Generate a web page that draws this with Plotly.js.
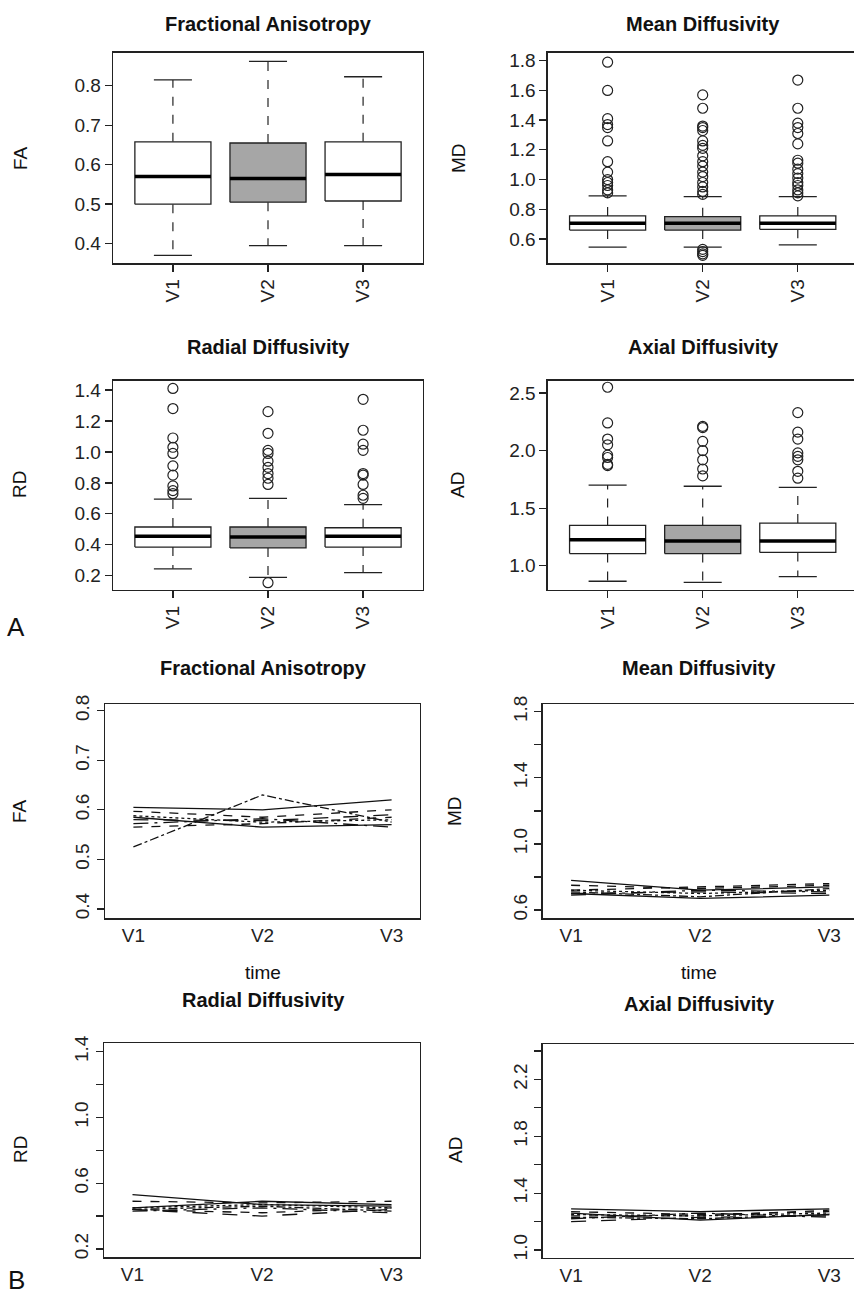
<!DOCTYPE html>
<html>
<head>
<meta charset="utf-8">
<script src="https://cdn.plot.ly/plotly-3.0.1.min.js"></script>
<style>
  body { margin: 0; overflow: hidden; background: #fff; }
  #chart { width: 862px; height: 1295px; }
</style>
</head>
<body>
<div id="chart"></div>
<script>
// ---- data ----
const visits = ["V1", "V2", "V3"];

// boxplot stats per visit: [lower whisker, q1, median, q3, upper whisker]
const faStats = [[0.37, 0.50, 0.57, 0.658, 0.815], [0.395, 0.505, 0.565, 0.655, 0.862], [0.395, 0.508, 0.575, 0.658, 0.823]];
const mdStats = [[0.545, 0.66, 0.705, 0.755, 0.89], [0.545, 0.66, 0.705, 0.75, 0.885], [0.56, 0.665, 0.705, 0.755, 0.885]];
const rdStats = [[0.245, 0.385, 0.455, 0.515, 0.695], [0.19, 0.38, 0.45, 0.515, 0.70], [0.22, 0.385, 0.455, 0.51, 0.66]];
const adStats = [[0.865, 1.105, 1.225, 1.35, 1.70], [0.855, 1.105, 1.215, 1.35, 1.69], [0.905, 1.115, 1.215, 1.37, 1.68]];

// outliers per visit
const faOut = [[], [], []];
const mdOut = [
  [1.79, 1.60, 1.41, 1.37, 1.35, 1.26, 1.12, 1.05, 1.0, 0.98, 0.96, 0.93, 0.91],
  [1.57, 1.48, 1.36, 1.35, 1.33, 1.26, 1.23, 1.21, 1.16, 1.12, 1.09, 1.05, 1.02, 0.98, 0.95, 0.92, 0.90, 0.53, 0.515, 0.50, 0.49],
  [1.67, 1.48, 1.38, 1.35, 1.31, 1.24, 1.13, 1.11, 1.07, 1.04, 1.01, 0.98, 0.96, 0.93, 0.91, 0.89]
];
const rdOut = [
  [1.41, 1.28, 1.09, 1.03, 0.99, 0.91, 0.85, 0.78, 0.75, 0.73],
  [1.26, 1.12, 1.01, 0.99, 0.94, 0.90, 0.86, 0.83, 0.79, 0.155],
  [1.34, 1.14, 1.05, 1.01, 0.86, 0.85, 0.79, 0.72, 0.70]
];
const adOut = [
  [2.55, 2.24, 2.10, 2.05, 1.96, 1.94, 1.88, 1.87],
  [2.21, 2.20, 2.08, 2.0, 1.92, 1.84, 1.78],
  [2.33, 2.16, 2.10, 1.98, 1.95, 1.92, 1.82, 1.76]
];

// subject trajectories (V1, V2, V3)
const faLines = [[0.605, 0.600, 0.620], [0.597, 0.585, 0.600], [0.588, 0.575, 0.580], [0.525, 0.630, 0.575],
                 [0.580, 0.578, 0.590], [0.572, 0.582, 0.565], [0.585, 0.565, 0.570], [0.565, 0.572, 0.585]];
const mdLines = [[0.78, 0.72, 0.74], [0.75, 0.73, 0.75], [0.72, 0.70, 0.72], [0.71, 0.68, 0.73],
                 [0.70, 0.71, 0.70], [0.69, 0.72, 0.71], [0.70, 0.67, 0.69], [0.72, 0.74, 0.76]];
const rdLines = [[0.53, 0.47, 0.46], [0.49, 0.48, 0.49], [0.45, 0.47, 0.45], [0.44, 0.46, 0.43],
                 [0.44, 0.40, 0.44], [0.43, 0.45, 0.42], [0.45, 0.49, 0.47], [0.44, 0.42, 0.45]];
const adLines = [[1.29, 1.27, 1.29], [1.27, 1.25, 1.27], [1.25, 1.24, 1.26], [1.23, 1.22, 1.25],
                 [1.20, 1.23, 1.24], [1.22, 1.26, 1.23], [1.26, 1.21, 1.25], [1.24, 1.24, 1.28]];
const dashes = ["solid", "dash", "dot", "dashdot", "longdash", "longdashdot", "solid", "dash"];

// ---- layout helpers ----
const W = 862, H = 1295;
const FONT = "Liberation Sans, Arial, sans-serif";
const dx = (a, b) => [a / W, b / W];
const dy = (top, bot) => [1 - bot / H, 1 - top / H];

let traces = [];
let layout = {
  width: W, height: H,
  margin: { l: 0, r: 0, t: 0, b: 0 },
  paper_bgcolor: "#fff", plot_bgcolor: "#fff",
  showlegend: false,
  font: { family: FONT, color: "#222" },
  annotations: []
};

function axisBase(extra) {
  return Object.assign({
    showline: true, mirror: true, linecolor: "#222", linewidth: 1.3,
    ticks: "outside", ticklen: 7, tickcolor: "#222", tickwidth: 1.3,
    showgrid: false, zeroline: false, fixedrange: true,
    tickfont: { size: 19, family: FONT, color: "#222" }
  }, extra);
}

function note(text, px, py, opts) {
  layout.annotations.push(Object.assign({
    text: text, x: px / W, y: 1 - py / H, xref: "paper", yref: "paper",
    xanchor: "center", yanchor: "middle",
    showarrow: false, font: { size: 19, family: FONT, color: "#111" }
  }, opts || {}));
}

function boxPanel(n, stats, outs, xd, yd, yr, yticks) {
  const xa = "x" + n, ya = "y" + n;
  layout["xaxis" + n] = axisBase({ domain: xd, range: [0.37, 3.63], anchor: ya,
    tickvals: [1, 2, 3], ticktext: visits, tickangle: -90 });
  layout["yaxis" + n] = axisBase({ domain: yd, range: yr, anchor: xa, tickvals: yticks, tickformat: ".1f" });
  stats.forEach((s, i) => {
    const c = i + 1, w = 0.4;
    const [lo, q1, med, q3, hi] = s;
    traces.push({ x: [c, c, null, c, c], y: [q3, hi, null, q1, lo], xaxis: xa, yaxis: ya,
      mode: "lines", line: { color: "#222", width: 1.2, dash: "dash" }, hoverinfo: "skip" });
    traces.push({ x: [c - w / 2, c + w / 2, null, c - w / 2, c + w / 2], y: [hi, hi, null, lo, lo],
      xaxis: xa, yaxis: ya, mode: "lines", line: { color: "#222", width: 1.3 }, hoverinfo: "skip" });
    traces.push({ x: [c - w, c + w, c + w, c - w, c - w], y: [q1, q1, q3, q3, q1], xaxis: xa, yaxis: ya,
      mode: "lines", fill: "toself", fillcolor: i === 1 ? "#a6a6a6" : "#ffffff",
      line: { color: "#222", width: 1.3 }, hoverinfo: "skip" });
    traces.push({ x: [c - w, c + w], y: [med, med], xaxis: xa, yaxis: ya,
      mode: "lines", line: { color: "#000", width: 3.5 }, hoverinfo: "skip" });
    if (outs[i].length) {
      traces.push({ x: outs[i].map(() => c), y: outs[i], xaxis: xa, yaxis: ya, mode: "markers",
        marker: { symbol: "circle-open", size: 10, color: "#222", line: { width: 1.2 } }, hoverinfo: "skip" });
    }
  });
}

function linePanel(n, lines, xd, yd, yr, yticks, ylabels) {
  const xa = "x" + n, ya = "y" + n;
  layout["xaxis" + n] = axisBase({ domain: xd, range: [-0.22, 2.22], anchor: ya,
    tickvals: [0, 1, 2], ticktext: visits, ticks: "" });
  layout["yaxis" + n] = axisBase({ domain: yd, range: yr, anchor: xa,
    tickvals: yticks, ticktext: ylabels, tickangle: -90 });
  lines.forEach((l, k) => {
    traces.push({ x: [0, 1, 2], y: l, xaxis: xa, yaxis: ya, mode: "lines",
      line: { color: "#111", width: 1.3, dash: dashes[k] }, hoverinfo: "skip" });
  });
}

// ---- panel A: boxplots ----
boxPanel(1, faStats, faOut, dx(113, 423), dy(52.7, 263.3), [0.350, 0.884], [0.4, 0.5, 0.6, 0.7, 0.8]);
boxPanel(2, mdStats, mdOut, dx(547.7, 857.7), dy(52.7, 263.3), [0.436, 1.854], [0.6, 0.8, 1.0, 1.2, 1.4, 1.6, 1.8]);
boxPanel(3, rdStats, rdOut, dx(113, 423), dy(380.7, 590), [0.108, 1.46], [0.2, 0.4, 0.6, 0.8, 1.0, 1.2, 1.4]);
boxPanel(4, adStats, adOut, dx(547.7, 857.7), dy(380.7, 590), [0.789, 2.607], [1.0, 1.5, 2.0, 2.5]);

// ---- panel B: spaghetti plots ----
linePanel(5, faLines, dx(105, 420), dy(704.3, 918.3), [0.381, 0.813],
  [0.4, 0.5, 0.6, 0.7, 0.8], ["0.4", "0.5", "0.6", "0.7", "0.8"]);
linePanel(6, mdLines, dx(542.7, 857.7), dy(704.3, 918.3), [0.55, 1.845],
  [0.6, 0.8, 1.0, 1.2, 1.4, 1.6, 1.8], ["0.6", "", "1.0", "", "1.4", "", "1.8"]);
linePanel(7, rdLines, dx(104, 420), dy(1043.3, 1257.3), [0.149, 1.451],
  [0.2, 0.4, 0.6, 0.8, 1.0, 1.2, 1.4], ["0.2", "", "0.6", "", "1.0", "", "1.4"]);
linePanel(8, adLines, dx(542.7, 857.7), dy(1044, 1257.7), [0.946, 2.449],
  [1.0, 1.2, 1.4, 1.6, 1.8, 2.0, 2.2, 2.4], ["1.0", "", "1.4", "", "1.8", "", "2.2", ""]);

// ---- titles and labels ----
const tFont = { size: 20, family: FONT, color: "#111" };
note("<b>Fractional Anisotropy</b>", 268, 24, { font: tFont });
note("<b>Mean Diffusivity</b>", 703, 24, { font: tFont });
note("<b>Radial Diffusivity</b>", 268, 347, { font: tFont });
note("<b>Axial Diffusivity</b>", 703, 347, { font: tFont });
note("<b>Fractional Anisotropy</b>", 263, 668, { font: tFont });
note("<b>Mean Diffusivity</b>", 699, 668, { font: tFont });
note("<b>Radial Diffusivity</b>", 263, 1000, { font: tFont });
note("<b>Axial Diffusivity</b>", 699, 1004, { font: tFont });

note("FA", 20, 158, { textangle: -90 });
note("MD", 458, 158, { textangle: -90 });
note("RD", 20, 485, { textangle: -90 });
note("AD", 458, 485, { textangle: -90 });
note("FA", 20, 811, { textangle: -90 });
note("MD", 455, 811, { textangle: -90 });
note("RD", 20, 1150, { textangle: -90 });
note("AD", 455, 1150, { textangle: -90 });

note("time", 263, 972);
note("time", 699, 972);
note("A", 16, 627, { font: { size: 26, family: FONT, color: "#111" } });
note("B", 16, 1280, { font: { size: 26, family: FONT, color: "#111" } });

Plotly.newPlot("chart", traces, layout, { staticPlot: true });
</script>
</body>
</html>
